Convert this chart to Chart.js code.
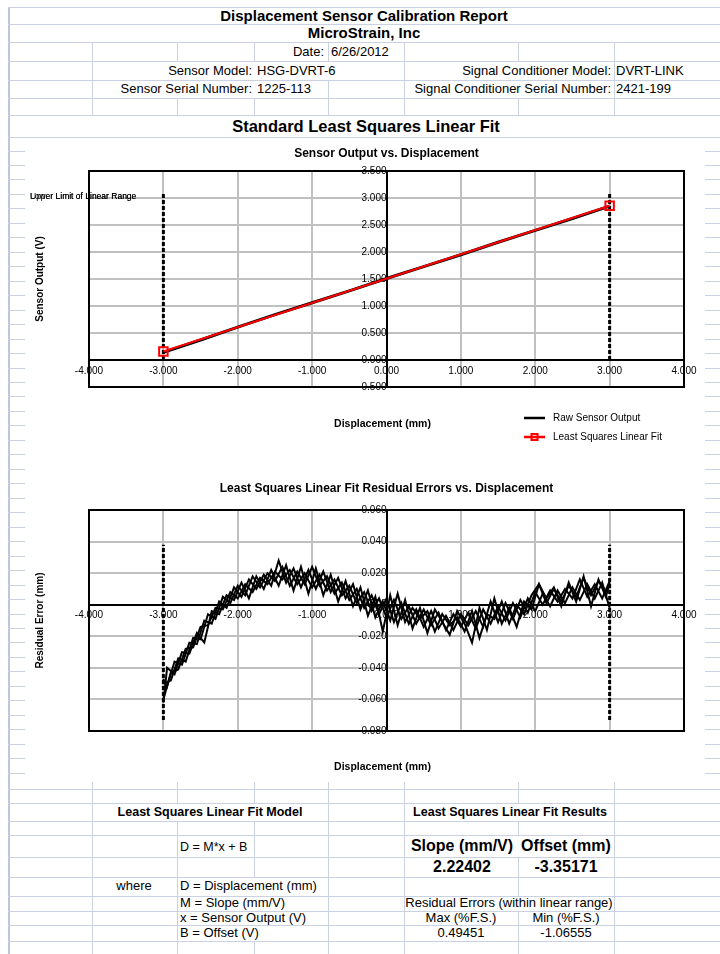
<!DOCTYPE html>
<html>
<head>
<meta charset="utf-8">
<script src="https://cdn.jsdelivr.net/npm/chart.js@4.4.0/dist/chart.umd.min.js"></script>
<style>
html, body { margin: 0; padding: 0; background: #fff; }
#page { position: relative; width: 720px; height: 954px; overflow: hidden; font-family: "Liberation Sans", Arial, sans-serif; color: #000; }
.h { position: absolute; height: 1px; background: #c9d1e2; }
.v { position: absolute; width: 1px; background: #c9d1e2; }
.t { position: absolute; white-space: nowrap; height: 20px; line-height: 20px; font-size: 13px; }
canvas { position: absolute; left: 25px; background: #fff; }
</style>
</head>
<body>
<div id="page">
  <canvas id="c1" width="680" height="320" style="top:140px"></canvas>
  <canvas id="c2" width="680" height="322" style="top:460px"></canvas>
</div>
<script>
// axis ranges
var dispRange = [-4, 4];
var outputRange = [-0.5, 3.5];
var residualRange = [-0.08, 0.06];

// sensor output vs displacement
var rawDisp = [-3, -2.5, -2, -1.5, -1, -0.5, 0, 0.5, 1, 1.5, 2, 2.5, 3];
var rawOutput = [0.14, 0.37, 0.61, 0.84, 1.06, 1.28, 1.51, 1.73, 1.95, 2.18, 2.40, 2.62, 2.85];
var fitDisp = [-3, 3];
var fitOutput = [0.158, 2.856];
var limitDisp = [-3, 3];
var limitSpanOutput = [0, 3.1];
var limitSpanResidual = [-0.073, 0.038];

// residual errors, four passes
var passDispA = [-3.0, -2.9, -2.8, -2.7, -2.6, -2.5, -2.4, -2.3, -2.2, -2.1,
  -2.0, -1.9, -1.8, -1.7, -1.6, -1.5, -1.4, -1.3, -1.2, -1.1,
  -1.0, -0.9, -0.8, -0.7, -0.6, -0.5, -0.4, -0.3, -0.2, -0.1,
  0.0, 0.1, 0.2, 0.3, 0.4, 0.5, 0.6, 0.7, 0.8, 0.9,
  1.0, 1.1, 1.2, 1.3, 1.4, 1.5, 1.6, 1.7, 1.8, 1.9,
  2.0, 2.1, 2.2, 2.3, 2.4, 2.5, 2.6, 2.7, 2.8, 2.9, 3.0];
var passResA = [-0.060, -0.043, -0.041, -0.028, -0.027, -0.014, -0.013, -0.002, -0.003, 0.008,
  0.004, 0.013, 0.008, 0.017, 0.013, 0.021, 0.016, 0.022, 0.013, 0.020,
  0.011, 0.019, 0.009, 0.016, 0.006, 0.012, 0.001, 0.008, -0.004, 0.004,
  -0.008, 0.003, -0.009, -0.001, -0.012, -0.003, -0.013, -0.005, -0.016, -0.006,
  -0.014, -0.005, -0.015, -0.003, -0.012, -0.001, -0.010, 0.001, -0.008, 0.004,
  -0.004, 0.007, -0.001, 0.009, 0.001, 0.011, 0.003, 0.013, 0.004, 0.014, -0.002];
var passResC = [-0.050, -0.048, -0.034, -0.036, -0.021, -0.022, -0.006, -0.009, 0.005, 0.001,
  0.012, 0.006, 0.018, 0.011, 0.020, 0.015, 0.024, 0.012, 0.021, 0.013,
  0.024, 0.012, 0.018, 0.007, 0.014, 0.003, 0.010, -0.002, 0.006, -0.006,
  0.004, -0.011, 0.001, -0.012, -0.003, -0.014, -0.004, -0.015, -0.007, -0.016,
  -0.006, -0.013, -0.004, -0.014, 0.002, -0.011, 0.001, -0.009, 0.003, -0.005,
  0.008, 0.000, 0.009, 0.002, 0.010, 0.004, 0.016, 0.005, 0.013, 0.004, 0.015];
var passDispB = [-3.00, -2.95, -2.85, -2.75, -2.65, -2.55, -2.45, -2.35, -2.25, -2.15,
  -2.05, -1.95, -1.85, -1.75, -1.65, -1.55, -1.45, -1.35, -1.25, -1.15,
  -1.05, -0.95, -0.85, -0.75, -0.65, -0.55, -0.45, -0.35, -0.25, -0.15,
  -0.05, 0.05, 0.15, 0.25, 0.35, 0.45, 0.55, 0.65, 0.75, 0.85,
  0.95, 1.05, 1.15, 1.25, 1.35, 1.45, 1.55, 1.65, 1.75, 1.85,
  1.95, 2.05, 2.15, 2.25, 2.35, 2.45, 2.55, 2.65, 2.75, 2.85, 2.95, 3.00];
var passResB = [-0.047, -0.052, -0.036, -0.038, -0.024, -0.025, -0.010, -0.012, 0.002, -0.002,
  0.011, 0.005, 0.016, 0.010, 0.019, 0.012, 0.028, 0.014, 0.023, 0.011,
  0.022, 0.010, 0.021, 0.008, 0.017, 0.004, 0.013, -0.003, 0.009, -0.008,
  0.002, -0.010, 0.007, -0.011, -0.002, -0.009, -0.004, -0.017, -0.006, -0.013,
  -0.008, -0.017, -0.004, -0.021, -0.006, -0.009, 0.002, -0.012, 0.000, -0.006,
  0.006, 0.013, 0.001, 0.010, 0.002, 0.012, 0.005, 0.017, 0.006, 0.015, 0.008, 0.012];
var passResD = [-0.062, -0.040, -0.044, -0.030, -0.031, -0.018, -0.024, -0.004, -0.006, 0.006,
  0.003, 0.014, 0.004, 0.018, 0.010, 0.022, 0.012, 0.025, 0.009, 0.024,
  0.007, 0.023, 0.006, 0.019, 0.002, 0.015, -0.001, 0.011, -0.007, 0.005,
  -0.017, 0.006, -0.013, 0.003, -0.015, -0.002, -0.018, -0.003, -0.011, -0.019,
  -0.004, -0.012, -0.024, -0.002, -0.016, 0.004, -0.012, -0.002, -0.014, 0.002,
  -0.003, 0.013, 0.004, 0.011, -0.001, 0.014, 0.002, 0.018, -0.001, 0.016, 0.005, 0.014];

var FONT = '"Liberation Sans", Arial, sans-serif';
var page = document.getElementById('page');

// ---- spreadsheet look ----
function hl(y, x1, x2, color, h) {
    var d = document.createElement('div');
    d.className = 'h';
    d.style.top = y + 'px'; d.style.left = x1 + 'px'; d.style.width = (x2 - x1) + 'px';
    if (color) d.style.background = color;
    if (h) d.style.height = h + 'px';
    page.insertBefore(d, page.firstChild);
}
function vl(x, y1, y2) {
    var d = document.createElement('div');
    d.className = 'v';
    d.style.left = x + 'px'; d.style.top = y1 + 'px'; d.style.height = (y2 - y1) + 'px';
    page.insertBefore(d, page.firstChild);
}
function put(text, x, cy, align, size, bold) {
    var d = document.createElement('div');
    d.className = 't';
    d.textContent = text;
    d.style.fontSize = size + 'px';
    if (bold) d.style.fontWeight = 'bold';
    d.style.top = (cy - 10) + 'px';
    if (align === 'l') {
        d.style.left = x + 'px';
    } else if (align === 'r') {
        d.style.left = (x - 400) + 'px'; d.style.width = '400px'; d.style.textAlign = 'right';
    } else {
        d.style.left = (x - 300) + 'px'; d.style.width = '600px'; d.style.textAlign = 'center';
    }
    page.appendChild(d);
}

var cols = [92, 177, 254, 328, 404, 518, 614];
[7, 24, 42, 61, 80, 98, 115, 137, 789, 803, 821, 835, 857, 877, 896, 911, 925, 941].forEach(function (y) { hl(y, 8, 720); });
[
    [42, 61, cols],
    [61, 80, [92, 404, 614]],
    [80, 98, [92, 328, 404, 614]],
    [98, 115, cols],
    [782, 803, cols],
    [803, 821, [92, 328, 404, 614]],
    [821, 835, cols],
    [835, 857, [92, 177, 254, 328, 404, 614]],
    [857, 877, cols],
    [877, 896, [92, 177, 328, 404, 518, 614]],
    [896, 911, [92, 177, 328, 404, 614]],
    [911, 925, [92, 177, 328, 404, 518, 614]],
    [925, 941, [92, 177, 328, 404, 518, 614]],
    [941, 954, cols]
].forEach(function (r) { r[2].forEach(function (x) { vl(x, r[0], r[1]); }); });
for (var k = 0; k < 44; k++) {
    var yy = Math.round(150.5 + k * 14.47);
    hl(yy, 8, 25);
    hl(yy, 705, 720);
}
var border = document.createElement('div');
border.style.cssText = 'position:absolute;left:8px;top:7px;width:2px;height:947px;background:#bcc7dd;';
page.insertBefore(border, page.firstChild);
hl(857, 404, 614, '#000', 1);
hl(925, 404, 614, '#000', 1);

put('Displacement Sensor Calibration Report', 364, 16, 'c', 15, true);
put('MicroStrain, Inc', 364, 33, 'c', 15, true);
put('Date:', 324, 52, 'r', 13);
put('6/26/2012', 331, 52, 'l', 13);
put('Sensor Model:', 252, 71, 'r', 13);
put('HSG-DVRT-6', 257, 71, 'l', 13);
put('Signal Conditioner Model:', 611, 71, 'r', 13);
put('DVRT-LINK', 616, 71, 'l', 13);
put('Sensor Serial Number:', 252, 89, 'r', 13);
put('1225-113', 257, 89, 'l', 13);
put('Signal Conditioner Serial Number:', 611, 89, 'r', 13);
put('2421-199', 616, 89, 'l', 13);
put('Standard Least Squares Linear Fit', 366, 126, 'c', 16.5, true);

put('Least Squares Linear Fit Model', 210, 812, 'c', 12.5, true);
put('Least Squares Linear Fit Results', 510, 812, 'c', 12.5, true);
put('D = M*x + B', 180, 847, 'l', 12.5);
put('Slope (mm/V)', 462, 846, 'c', 16, true);
put('Offset (mm)', 566, 846, 'c', 16, true);
put('2.22402', 462, 867, 'c', 16, true);
put('-3.35171', 566, 867, 'c', 16, true);
put('where', 134, 886, 'c', 13);
put('D = Displacement (mm)', 180, 886, 'l', 13);
put('M = Slope (mm/V)', 180, 903, 'l', 13);
put('Residual Errors (within linear range)', 509, 903, 'c', 13);
put('x = Sensor Output (V)', 180, 918, 'l', 13);
put('Max (%F.S.)', 461, 918, 'c', 13);
put('Min (%F.S.)', 566, 918, 'c', 13);
put('B = Offset (V)', 180, 933, 'l', 13);
put('0.49451', 461, 933, 'c', 13);
put('-1.06555', 566, 933, 'c', 13);

// ---- charts ----
Chart.defaults.font.family = FONT;
Chart.defaults.color = '#000';

function pts(xs, ys) {
    return xs.map(function (x, i) { return { x: x, y: ys[i] }; });
}

// frame, axis titles, legend and limit labels
var extras = {
    id: 'extras',
    afterDraw: function (chart, args, o) {
        var ctx = chart.ctx, a = chart.chartArea;
        ctx.save();
        ctx.strokeStyle = '#000';
        ctx.lineWidth = 2;
        ctx.strokeRect(a.left, a.top, a.right - a.left, a.bottom - a.top);

        ctx.fillStyle = '#000';
        ctx.textAlign = 'center';
        ctx.textBaseline = 'middle';
        ctx.font = 'bold 10.5px ' + FONT;
        ctx.fillText(o.xTitle, (a.left + a.right) / 2 - 4, o.xTitleY);
        ctx.save();
        ctx.translate(o.yTitleX, (a.top + a.bottom) / 2);
        ctx.rotate(-Math.PI / 2);
        ctx.font = 'bold 10px ' + FONT;
        ctx.fillText(o.yTitle, 0, 0);
        ctx.restore();

        if (o.legendX) {
            ctx.textAlign = 'left';
            ctx.font = '10px ' + FONT;
            chart.data.datasets.forEach(function (ds) {
                if (ds.legendRow === undefined) return;
                var y = o.legendY + ds.legendRow * o.legendGap;
                ctx.strokeStyle = ds.borderColor;
                ctx.lineWidth = 2.5;
                ctx.beginPath();
                ctx.moveTo(o.legendX, y);
                ctx.lineTo(o.legendX + 21, y);
                ctx.stroke();
                if (ds.pointStyle === 'rect') {
                    ctx.lineWidth = 2;
                    ctx.strokeRect(o.legendX + 7.5, y - 3, 6, 6);
                }
                ctx.fillText(ds.label, o.legendX + 29, y);
            });
        }
        if (o.limitLabelX !== undefined) {
            ctx.textAlign = 'left';
            ctx.font = '8.5px ' + FONT;
            chart.data.datasets.forEach(function (ds) {
                if (ds.limitLine) ctx.fillText(ds.label, o.limitLabelX, o.limitLabelY);
            });
        }
        ctx.restore();
    }
};

function xAxis() {
    return {
        type: 'linear', min: dispRange[0], max: dispRange[1], position: { y: 0 },
        ticks: { stepSize: 1, autoSkip: false, maxRotation: 0, padding: 0, font: { size: 10 },
            callback: function (v) { return v.toFixed(3); } },
        grid: { color: '#c0c0c0', lineWidth: 2, tickLength: 5 },
        border: { color: '#000', width: 2 }
    };
}
function yAxis(range, step) {
    return {
        type: 'linear', min: range[0], max: range[1], position: { x: 0 },
        ticks: { stepSize: step, autoSkip: false, padding: 1, font: { size: 10 },
            callback: function (v) { return v.toFixed(3); } },
        grid: { color: '#c0c0c0', lineWidth: 2, tickLength: 4 },
        border: { color: '#000', width: 2 }
    };
}
function limitSet(label, x, span) {
    return { label: label, data: pts([x, x], span), showLine: true, borderColor: '#000',
        borderWidth: 3, borderDash: [4, 2], pointRadius: 0, order: 2, limitLine: true };
}

new Chart(document.getElementById('c1'), {
    type: 'scatter',
    data: {
        datasets: [
            { label: 'Least Squares Linear Fit', data: pts(fitDisp, fitOutput), showLine: true,
              borderColor: '#ff0000', borderWidth: 2, pointStyle: 'rect', pointRadius: 6,
              pointBorderWidth: 2, pointBorderColor: '#ff0000', pointBackgroundColor: 'rgba(255,255,255,0)',
              order: 0, legendRow: 1 },
            { label: 'Raw Sensor Output', data: pts(rawDisp, rawOutput), showLine: true,
              borderColor: '#000', borderWidth: 3, pointRadius: 0, order: 1, legendRow: 0 },
            limitSet('Lower Limit of Linear Range', limitDisp[0], limitSpanOutput),
            limitSet('Upper Limit of Linear Range', limitDisp[1], limitSpanOutput)
        ]
    },
    options: {
        responsive: false,
        animation: false,
        layout: { padding: { left: 64, right: 21, top: 0, bottom: 73 } },
        plugins: {
            legend: { display: false },
            tooltip: { enabled: false },
            title: { display: true, text: 'Sensor Output vs. Displacement', color: '#000',
                font: { size: 12, weight: 'bold' }, padding: { top: 6.8, bottom: 9.8 } },
            extras: { xTitle: 'Displacement (mm)', yTitle: 'Sensor Output (V)', xTitleY: 284, yTitleX: 15,
                legendX: 499, legendY: 278, legendGap: 19, limitLabelX: 5, limitLabelY: 57 }
        },
        scales: { x: xAxis(), y: yAxis(outputRange, 0.5) }
    },
    plugins: [extras]
});

function passSet(label, xs, ys) {
    return { label: label, data: pts(xs, ys), showLine: true, borderColor: '#000',
        borderWidth: 2, pointRadius: 0, order: 1 };
}

new Chart(document.getElementById('c2'), {
    type: 'scatter',
    data: {
        datasets: [
            passSet('Residual pass 1', passDispA, passResA),
            passSet('Residual pass 2', passDispB, passResB),
            passSet('Residual pass 3', passDispA, passResC),
            passSet('Residual pass 4', passDispB, passResD),
            limitSet('Lower Limit of Linear Range', limitDisp[0], limitSpanResidual),
            limitSet('Upper Limit of Linear Range', limitDisp[1], limitSpanResidual)
        ]
    },
    options: {
        responsive: false,
        animation: false,
        layout: { padding: { left: 64, right: 21, top: 0, bottom: 51 } },
        plugins: {
            legend: { display: false },
            tooltip: { enabled: false },
            title: { display: true, text: 'Least Squares Linear Fit Residual Errors vs. Displacement', color: '#000',
                font: { size: 12, weight: 'bold' }, padding: { top: 21.8, bottom: 13.8 } },
            extras: { xTitle: 'Displacement (mm)', yTitle: 'Residual Error (mm)', xTitleY: 307, yTitleX: 15 }
        },
        scales: { x: xAxis(), y: yAxis(residualRange, 0.02) }
    },
    plugins: [extras]
});
</script>
</body>
</html>
